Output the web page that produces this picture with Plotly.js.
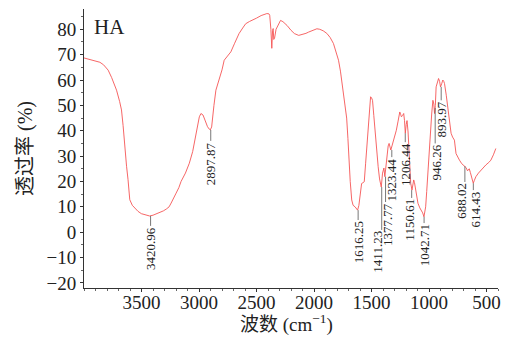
<!DOCTYPE html>
<html>
<head>
<meta charset="utf-8">
<script src="https://cdn.plot.ly/plotly-3.0.1.min.js"></script>
<style>html,body{margin:0;padding:0;background:#fff;}#chart{width:511px;height:343px;}</style>
</head>
<body>
<div id="chart"></div>
<script>
// Wavenumber (cm^-1) and transmittance (%)
var wavenumber = [
  4000,3950,3900,3862,3830,3790,3760,3717,3690,3674,
  3660,3646,3630,3617,3602,3580,3559,3530,3501,3465,
  3430,3400,3370,3343,3310,3285,3260,3242,3220,3199,
  3175,3156,3118,3100,3084,3055,3026,3010,2997,2983,
  2965,2948,2926,2910,2902,2890,2882,2870,2853,2825,
  2800,2781,2750,2723,2690,2652,2620,2594,2560,2537,
  2500,2460,2436,2410,2392,2385,2375,2367,2360,2355,
  2350,2343,2330,2320,2305,2291,2270,2250,2234,2200,
  2170,2133,2100,2070,2047,2010,1975,1950,1920,1889,
  1860,1831,1810,1787,1770,1759,1744,1730,1716,1705,
  1695,1685,1672,1660,1643,1630,1621,1610,1600,1586,
  1575,1563,1551,1540,1528,1518,1508,1500,1491,1480,
  1470,1455,1442,1430,1422,1415,1404,1392,1384,1375,
  1364,1355,1347,1340,1332,1322,1312,1298,1284,1270,
  1254,1247,1240,1230,1220,1213,1206,1198,1191,1182,
  1174,1166,1159,1148,1140,1133,1126,1119,1108,1096,
  1080,1067,1055,1044,1036,1029,1020,1009,998,986,
  976,966,958,952,945,938,930,923,917,908,
  900,890,880,872,865,850,837,822,808,795,
  779,765,750,735,715,700,688,678,665,650,
  640,635,625,615,605,592,570,549,530,506,
  480,462,440,419
];
var transmittance = [
  68.7,68.0,67.4,67.0,66.0,63.9,61.0,56.0,51.5,48.2,
  42.0,33.8,26.0,20.7,12.8,10.6,9.5,8.2,7.3,6.7,
  6.4,6.7,7.2,7.8,8.4,9.1,10.0,11.5,13.3,15.4,
  17.6,20.0,23.3,25.2,27.2,31.8,39.0,42.5,45.5,46.8,
  46.2,44.2,41.6,40.6,40.3,41.5,45.5,50.0,56.0,60.0,
  64.0,67.8,69.5,71.1,74.5,78.3,80.5,82.2,83.1,83.5,
  84.4,85.4,85.9,86.2,86.1,85.5,80.0,72.5,79.6,80.3,
  76.0,76.5,80.0,81.0,82.6,83.5,83.0,82.2,81.5,79.6,
  78.3,77.6,77.9,78.4,78.9,79.7,80.2,80.0,79.4,78.4,
  76.8,74.4,71.5,67.8,63.5,60.0,55.0,50.0,45.0,37.0,
  27.0,20.0,12.7,10.6,10.0,9.2,8.7,10.5,15.4,19.2,
  19.5,19.9,27.2,34.0,44.0,49.5,53.4,53.0,52.0,46.0,
  40.2,32.0,25.8,21.0,18.2,17.8,23.3,25.3,21.9,26.0,
  31.0,34.0,35.0,34.0,32.4,34.0,35.6,37.8,40.2,43.5,
  47.4,46.5,45.5,46.0,46.8,44.0,39.0,42.5,44.0,39.5,
  33.7,25.0,19.3,16.6,18.8,20.6,19.5,17.9,14.5,11.4,
  9.6,8.7,7.6,6.1,7.8,10.0,16.0,24.5,32.5,40.2,
  47.0,52.0,50.5,46.8,50.0,57.3,59.0,60.0,60.6,59.5,
  57.3,58.5,60.0,59.5,58.6,54.0,49.4,43.5,39.0,37.5,
  36.3,31.0,29.5,28.4,27.0,26.3,26.0,25.5,24.2,25.0,
  23.5,22.5,20.5,19.3,20.5,21.9,23.3,24.5,25.3,26.5,
  27.5,28.4,30.5,33.0
];
var xTicks = [3500, 3000, 2500, 2000, 1500, 1000, 500];
var peakLabels = ['3420.96','2897.87','1616.25','1411.23','1377.77','1323.44','1206.44','1150.61','1042.71','946.26','893.97','688.02','614.43'];
var peakWn = [3420.96, 2897.87, 1616.25, 1411.23, 1377.77, 1323.44, 1206.44, 1150.61, 1042.71, 946.26, 893.97, 688.02, 614.43];
var peakCurveT = [6.4, 40.3, 8.7, 17.8, 21.9, 32.4, 39.0, 16.6, 6.1, 49.0, 57.3, 26.0, 19.3];
var labelTop = [2.5, 36.0, 4.8, 0.9, 11.9, 29.6, 35.5, 13.5, 3.6, 35.0, 52.0, 19.8, 16.6];
var labelShift = [0, 0, 0, -4, 2, 0, 0, -2, 0, 1, 0, -3, 2];
var sampleName = 'HA';
var xTitle = '波数 (cm<sup>−1</sup>)';
var yTitle = '透过率 (%)';

var serif = 'Liberation Serif, Noto Sans CJK SC, serif';
var shapes = [], annotations = [];
for (var i = 0; i < peakLabels.length; i++) {
  shapes.push({type:'line', xref:'x', yref:'y', x0:peakWn[i], x1:peakWn[i], y0:peakCurveT[i], y1:labelTop[i],
    line:{color:'#555', width:0.8}});
  annotations.push({xref:'x', yref:'y', x:peakWn[i], y:labelTop[i], text:peakLabels[i], textangle:-90,
    showarrow:false, xanchor:'center', yanchor:'top', borderpad:0, xshift:labelShift[i],
    font:{family:serif, size:13, color:'#222'}});
}
annotations.push({xref:'paper', yref:'paper', x:0.02, y:0.985, xanchor:'left', yanchor:'top', text:sampleName,
  showarrow:false, font:{family:serif, size:21, color:'#222'}});
annotations.push({xref:'paper', yref:'paper', x:0.488, y:-0.127, xanchor:'center', yanchor:'middle', text:xTitle,
  showarrow:false, borderpad:0, font:{family:serif, size:19, color:'#222'}});

var trace = {x: wavenumber, y: transmittance, type:'scatter', mode:'lines',
  line:{color:'rgb(245,85,85)', width:0.9}, hoverinfo:'skip'};

var layout = {
  width:511, height:343,
  margin:{l:84, r:13, t:9, b:55},
  paper_bgcolor:'#fff', plot_bgcolor:'#fff',
  showlegend:false,
  xaxis:{range:[4000,400], tickvals:xTicks, ticktext:xTicks.map(String),
    showline:true, linecolor:'#333', linewidth:1, mirror:false,
    ticks:'outside', ticklen:3, tickcolor:'#333', tickwidth:1,
    minor:{dtick:100, tick0:0, ticks:'outside', ticklen:2, tickcolor:'#666'},
    showgrid:false, zeroline:false, ticklabelstandoff:-6,
    tickfont:{family:serif, size:19, color:'#222'}},
  yaxis:{range:[-22,88], tick0:0, dtick:10,
    showline:true, linecolor:'#333', linewidth:1, mirror:false,
    ticks:'outside', ticklen:3, tickcolor:'#333', tickwidth:1,
    minor:{dtick:5, ticks:'outside', ticklen:2, tickcolor:'#666'},
    showgrid:false, zeroline:false,
    tickfont:{family:serif, size:19, color:'#222'},
    title:{text:yTitle, font:{family:serif, size:20, color:'#222'}, standoff:8}},
  shapes:shapes,
  annotations:annotations
};
Plotly.newPlot('chart', [trace], layout, {displayModeBar:false, staticPlot:true});
</script>
</body>
</html>
